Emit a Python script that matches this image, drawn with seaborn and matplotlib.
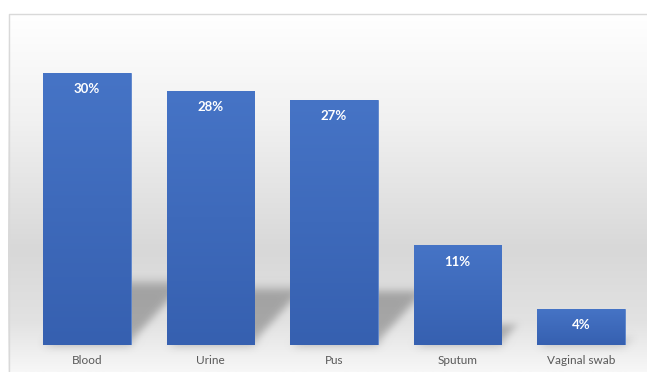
import matplotlib.pyplot as plt
import numpy as np
import seaborn as sns
from matplotlib.collections import PolyCollection
from matplotlib.colors import LinearSegmentedColormap

# data
specimens = ['Blood', 'Urine', 'Pus', 'Sputum', 'Vaginal swab']
percent = [30, 28, 27, 11, 4]

sns.set_theme(style='white')
plt.rcParams['font.family'] = ['Lato', 'DejaVu Sans']

W, H = 647, 372
fig = plt.figure(figsize=(W / 100, H / 100), dpi=100)
fig.patch.set_facecolor('white')

# chart area: white -> grey -> light grey gradient with a thin border
bg = fig.add_axes([0, 0, 1, 1], zorder=-1)
bg.set_xlim(0, W)
bg.set_ylim(H, 0)
bg.axis('off')
bg_cmap = LinearSegmentedColormap.from_list(
    'bg', [(0, '#ffffff'), (0.30, '#f1f1f1'), (0.66, '#d8d8d8'), (0.86, '#e2e2e2'), (1, '#f7f7f7')])
grad = np.linspace(0, 1, 256).reshape(-1, 1)
bg.imshow(grad, cmap=bg_cmap, aspect='auto', extent=(8, W, H, 13), vmin=0, vmax=1)
bg.plot([8.5, 8.5, W], [H, 13.5, 13.5], color='#d9d9d9', lw=1)

ax = fig.add_axes([25 / W, 27 / H, 618 / W, 325 / H])
ax.patch.set_visible(False)

sns.barplot(x=specimens, y=percent, ax=ax, color='#4472c4', saturation=1, width=0.71, zorder=2)
ax.set_xlim(-0.5, 4.5)
ax.set_ylim(0, 35.8)
sns.despine(ax=ax, left=True, bottom=True)
ax.set_yticks([])
ax.set_xlabel(None)
ax.set_ylabel(None)
ax.tick_params(axis='x', length=0, pad=7, labelsize=8.5, labelcolor='#595959')


def blur(im, dpi, sigma=3.5):
    pad = int(sigma * 3)
    src = np.pad(im, [(pad, pad), (pad, pad), (0, 0)])
    k = np.exp(-0.5 * (np.arange(-pad, pad + 1) / sigma) ** 2)
    k /= k.sum()
    out = np.apply_along_axis(lambda m: np.convolve(m, k, mode='same'), 0, src)
    out = np.apply_along_axis(lambda m: np.convolve(m, k, mode='same'), 1, out)
    return out, -pad, -pad


# perspective shadow cast up and to the right of each bar
bar_cmap = LinearSegmentedColormap.from_list('bar', ['#4674c6', '#3660b0'])
shadows = []
for bar, v in zip(ax.patches, percent):
    x0, w, h = bar.get_x(), bar.get_width(), bar.get_height()
    k, s = 0.23, 0.0155
    shadows.append([(x0, 0), (x0 + w, 0), (x0 + w + s * v, k * v), (x0 + s * v, k * v)])
    img = ax.imshow(grad, cmap=bar_cmap, aspect='auto', extent=(x0, x0 + w, 0, h), zorder=2.1)
    img.set_clip_path(bar)
    bar.set_edgecolor('#5b84cc')
    bar.set_linewidth(0.6)
    ax.annotate(f'{v}%', (x0 + w / 2, h), xytext=(0, -7.5), textcoords='offset points',
                ha='center', va='top', color='white', fontsize=9.5, fontweight='bold', zorder=3)

shade = PolyCollection(shadows, facecolors='black', alpha=0.27, edgecolors='none', zorder=1)
shade.set_agg_filter(blur)
ax.add_collection(shade)
ax.set_xlim(-0.5, 4.5)
ax.set_ylim(0, 35.8)

plt.savefig('out.png', dpi=100)
